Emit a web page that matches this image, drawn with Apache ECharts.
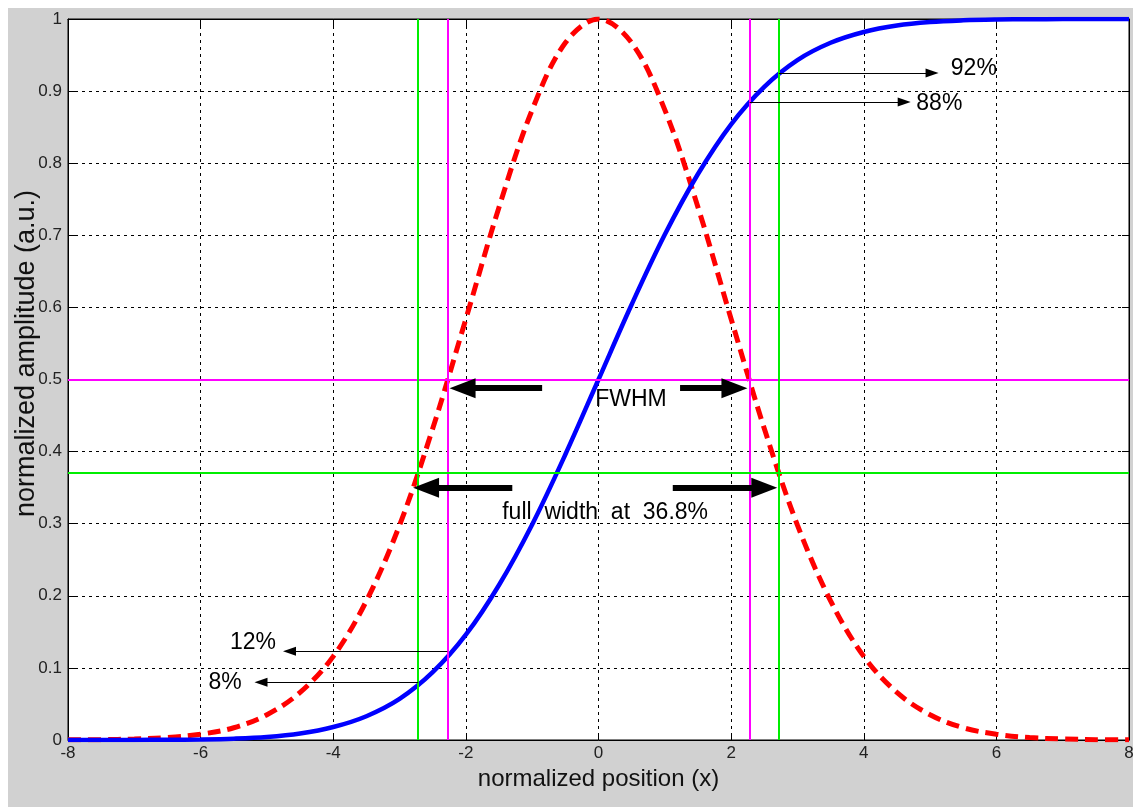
<!DOCTYPE html>
<html>
<head>
<meta charset="utf-8">
<script src="https://cdn.jsdelivr.net/npm/echarts@6/dist/echarts.min.js"></script>
<style>
  html, body { margin: 0; padding: 0; background: #ffffff; width: 1133px; height: 807px; overflow: hidden; }
  #chart { position: absolute; left: 8px; top: 8px; width: 1125px; height: 799px; background: #d1d1d1; }
</style>
</head>
<body>
<div id="chart"></div>
<script>
// ---- data ----
const xValues = [-8,-7.5,-7,-6.5,-6,-5.5,-5,-4.5,-4,-3.5,-3,-2.5,-2,-1.5,-1,-0.5,0,0.5,1,1.5,2,2.5,3,3.5,4,4.5,5,5.5,6,6.5,7,7.5,8];
const gaussian = [0.0002,0.0005,0.0014,0.0034,0.008,0.017,0.035,0.066,0.116,0.193,0.298,0.432,0.584,0.739,0.874,0.967,1,0.967,0.874,0.739,0.584,0.432,0.298,0.193,0.116,0.066,0.035,0.017,0.008,0.0034,0.0014,0.0005,0.0002];
const cumulative = [0,0,0.0001,0.0003,0.0008,0.0019,0.0042,0.009,0.018,0.033,0.057,0.094,0.146,0.215,0.299,0.396,0.5,0.604,0.701,0.785,0.854,0.906,0.943,0.967,0.982,0.991,0.9958,0.9981,0.9992,0.9997,0.9999,1,1];

const fwhmX = [-2.28, 2.28];
const fwhmLevel = 0.5;
const width368X = [-2.72, 2.72];
const width368Level = 0.368;

// thick arrows: [fromX, fromY, toX, toY]
const thickArrows = [
  [-0.85, 0.488, -2.05, 0.488],
  [1.23, 0.488, 2.05, 0.488],
  [-1.30, 0.35, -2.60, 0.35],
  [1.12, 0.35, 2.50, 0.35]
];
// thin arrows: [fromX, fromY, toX, toY]
const thinArrows = [
  [2.72, 0.925, 5.03, 0.925],
  [2.28, 0.885, 4.61, 0.885],
  [-2.28, 0.123, -4.66, 0.123],
  [-2.72, 0.080, -5.09, 0.080]
];
// annotation texts: [x, y, text]
const annotations = [
  [0.49, 0.472, 'FWHM'],
  [0.10, 0.315, 'full  width  at  36.8%'],
  [5.66, 0.931, '92%'],
  [5.14, 0.882, '88%'],
  [-5.21, 0.135, '12%'],
  [-5.63, 0.079, '8%']
];
const xTicks = { min: -8, max: 8, interval: 2 };
const yTicks = { min: 0, max: 1, interval: 0.1 };

// ---- chart ----
const chart = echarts.init(document.getElementById('chart'), null, { renderer: 'canvas' });
const FONT = "'Liberation Sans', Arial, Helvetica, sans-serif";

const pair = (arr) => arr.map(a => [{ coord: [a[0], a[1]] }, { coord: [a[2], a[3]] }]);

const gridLine = { show: true, lineStyle: { color: '#000', type: [3, 4], width: 1 } };
const tickStyle = { show: true, inside: true, length: 7, lineStyle: { color: '#000' } };

const option = {
  animation: false,
  textStyle: { fontFamily: FONT },
  grid: {
    left: 60, top: 11, right: 4, bottom: 67,
    outerBoundsMode: 'none', containLabel: false,
    show: true, backgroundColor: '#ffffff', borderColor: '#000', borderWidth: 1
  },
  xAxis: [
    {
      type: 'value', min: xTicks.min, max: xTicks.max, interval: xTicks.interval,
      name: 'normalized position (x)', nameLocation: 'middle', nameGap: 27, nameMoveOverlap: false,
      nameTextStyle: { fontSize: 24, color: '#111', fontFamily: FONT },
      axisLine: { show: true, onZero: false, lineStyle: { color: '#000' } },
      axisTick: tickStyle,
      axisLabel: { fontSize: 17, color: '#222', margin: 5, fontFamily: FONT },
      splitLine: gridLine
    },
    {
      type: 'value', position: 'top', min: xTicks.min, max: xTicks.max, interval: xTicks.interval,
      axisLine: { show: true, onZero: false, lineStyle: { color: '#000' } },
      axisTick: tickStyle,
      axisLabel: { show: false }, splitLine: { show: false }
    }
  ],
  yAxis: [
    {
      type: 'value', min: yTicks.min, max: yTicks.max, interval: yTicks.interval,
      name: 'normalized amplitude (a.u.)', nameLocation: 'middle', nameGap: 28, nameMoveOverlap: false,
      nameTextStyle: { fontSize: 27, color: '#111', fontFamily: FONT, padding: [0, 0, 0, 52] },
      axisLine: { show: true, onZero: false, lineStyle: { color: '#000' } },
      axisTick: tickStyle,
      axisLabel: { fontSize: 17, color: '#222', margin: 6, fontFamily: FONT },
      splitLine: gridLine
    },
    {
      type: 'value', position: 'right', min: yTicks.min, max: yTicks.max, interval: yTicks.interval,
      axisLine: { show: true, onZero: false, lineStyle: { color: '#000' } },
      axisTick: tickStyle,
      axisLabel: { show: false }, splitLine: { show: false }
    }
  ],
  series: [
    {
      name: 'guides', type: 'line', data: [], silent: true,
      markLine: {
        silent: true, symbol: ['none', 'none'], animation: false,
        label: { show: false },
        data: [
          ...fwhmX.map(v => ({ xAxis: v, lineStyle: { color: '#ff00ff', width: 2, type: 'solid' } })),
          { yAxis: fwhmLevel, lineStyle: { color: '#ff00ff', width: 2, type: 'solid' } },
          ...width368X.map(v => ({ xAxis: v, lineStyle: { color: '#00ee00', width: 2, type: 'solid' } })),
          { yAxis: width368Level, lineStyle: { color: '#00ee00', width: 2, type: 'solid' } }
        ]
      }
    },
    {
      name: 'gaussian', type: 'line', smooth: 0.35, showSymbol: false,
      data: xValues.map((x, i) => [x, gaussian[i]]),
      lineStyle: { color: '#ff0000', width: 5, type: [13, 7], cap: 'butt' }
    },
    {
      name: 'cumulative', type: 'line', smooth: 0.35, showSymbol: false,
      data: xValues.map((x, i) => [x, cumulative[i]]),
      lineStyle: { color: '#0000ff', width: 4.5, type: 'solid' }
    },
    {
      name: 'arrows', type: 'line', data: [], silent: true,
      markLine: {
        silent: true, animation: false, label: { show: false },
        symbol: ['none', 'triangle'],
        data: [
          ...pair(thickArrows).map(p => { p[0].lineStyle = { color: '#000', width: 6, type: 'solid', opacity: 1 }; p[1].symbolSize = [20, 26]; return p; }),
          ...pair(thinArrows).map(p => { p[0].lineStyle = { color: '#000', width: 1.2, type: 'solid', opacity: 1 }; p[1].symbolSize = [9, 13]; return p; })
        ]
      }
    },
    {
      name: 'labels', type: 'scatter', symbolSize: 0, silent: true,
      itemStyle: { opacity: 1 },
      data: annotations,
      label: {
        show: true, position: 'inside', formatter: p => p.value[2],
        fontSize: 23, color: '#000', opacity: 1, fontFamily: FONT
      }
    }
  ]
};
chart.setOption(option);
</script>
</body>
</html>
